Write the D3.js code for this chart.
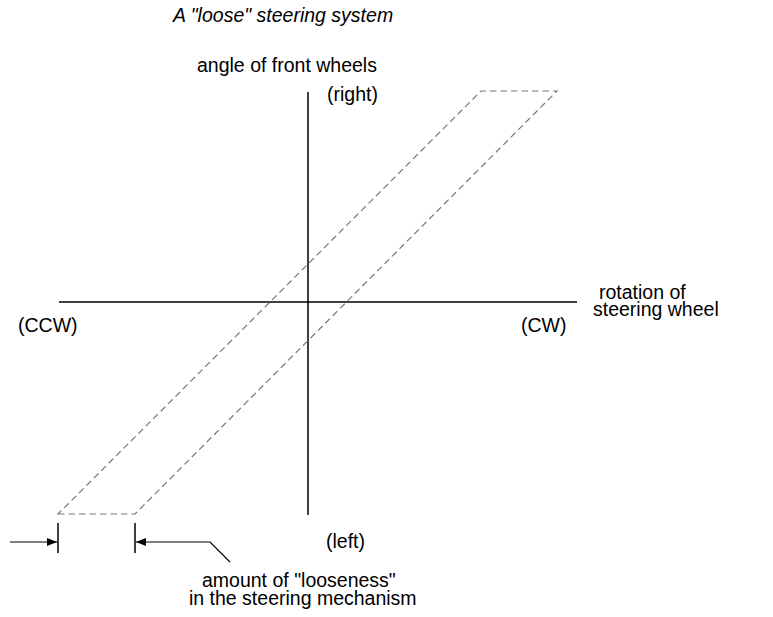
<!DOCTYPE html>
<html>
<head>
<meta charset="utf-8">
<script src="https://cdn.jsdelivr.net/npm/d3@7"></script>
<style>
  html, body { margin: 0; padding: 0; background: #fff; }
  text { font-family: "Liberation Sans", Arial, Helvetica, sans-serif; fill: #000; }
</style>
</head>
<body>
<svg id="chart" width="773" height="617"></svg>
<script>
// ---- data ----
const title = 'A "loose" steering system';
const xAxisExtent = [-24.9, 26.9];          // rotation of steering wheel (CCW .. CW)
const yAxisExtent = [-21.3, 21.0];          // angle of front wheels (left .. right)
const bandX = [-25.0, -17.3, 24.9, 17.3];   // hysteresis band corners (rotation)
const bandY = [-21.2, -21.2, 21.1, 21.1];   // hysteresis band corners (angle)
const loosenessMarks = [-25.0, -17.3];      // extent of looseness
const xEndLabels = ["(CCW)", "(CW)"];
const yEndLabels = ["(left)", "(right)"];
const xAxisTitle = ["rotation of", "steering wheel"];
const yAxisTitle = ["angle of front wheels"];
const noteLines = ['amount of "looseness"', "in the steering mechanism"];

// ---- scales ----
const svg = d3.select("#chart");
const x = d3.scaleLinear().domain(xAxisExtent).range([59, 577]);
const y = d3.scaleLinear().domain(yAxisExtent).range([515, 92]);

// arrowhead marker
const defs = svg.append("defs");
defs.append("marker")
  .attr("id", "arrow")
  .attr("viewBox", "0 0 10 8")
  .attr("refX", 10).attr("refY", 4)
  .attr("markerWidth", 13).attr("markerHeight", 8)
  .attr("markerUnits", "userSpaceOnUse")
  .attr("orient", "auto")
  .append("path").attr("d", "M0,0 L10,4 L0,8 Z").attr("fill", "#000");

// ---- axes ----
svg.append("line")
  .attr("x1", x(xAxisExtent[0])).attr("x2", x(xAxisExtent[1]))
  .attr("y1", y(0)).attr("y2", y(0))
  .attr("stroke", "#000").attr("stroke-width", 1.5);
svg.append("line")
  .attr("x1", x(0)).attr("x2", x(0))
  .attr("y1", y(yAxisExtent[0])).attr("y2", y(yAxisExtent[1]))
  .attr("stroke", "#000").attr("stroke-width", 1.5);

// ---- band ----
const pts = bandX.map((v, i) => [x(v), y(bandY[i])]);
svg.append("path")
  .attr("d", d3.line()(pts) + "Z")
  .attr("fill", "none")
  .attr("stroke", "#777")
  .attr("stroke-width", 1.2)
  .attr("stroke-dasharray", "6.5,4");

// ---- looseness marks ----
const markTop = y(yAxisExtent[0]) + 8, markBot = markTop + 30, arrowY = markTop + 19;
loosenessMarks.forEach(v => {
  svg.append("line")
    .attr("x1", x(v)).attr("x2", x(v))
    .attr("y1", markTop).attr("y2", markBot)
    .attr("stroke", "#000").attr("stroke-width", 1.5);
});
svg.append("line")
  .attr("x1", 10).attr("x2", x(loosenessMarks[0]) - 1)
  .attr("y1", arrowY).attr("y2", arrowY)
  .attr("stroke", "#000").attr("stroke-width", 1.2)
  .attr("marker-end", "url(#arrow)");
svg.append("path")
  .attr("d", `M230,${arrowY + 20} L210,${arrowY} L${x(loosenessMarks[1]) + 1},${arrowY}`)
  .attr("fill", "none")
  .attr("stroke", "#000").attr("stroke-width", 1.2)
  .attr("marker-end", "url(#arrow)");

// ---- text ----
const fs = 19.5;
function label(t, px, py, italic) {
  svg.append("text").attr("x", px).attr("y", py)
    .attr("font-size", fs)
    .attr("font-style", italic ? "italic" : "normal")
    .text(t);
}
label(title, 173, 22, true);
label(yAxisTitle[0], 197, 72);
label(yEndLabels[1], 327, 101);
label(yEndLabels[0], 326, 548);
label(xEndLabels[0], 18, 332);
label(xEndLabels[1], 521, 332);
label(xAxisTitle[0], 599, 299);
label(xAxisTitle[1], 593, 316);
label(noteLines[0], 202, 587);
label(noteLines[1], 189, 605);
</script>
</body>
</html>
